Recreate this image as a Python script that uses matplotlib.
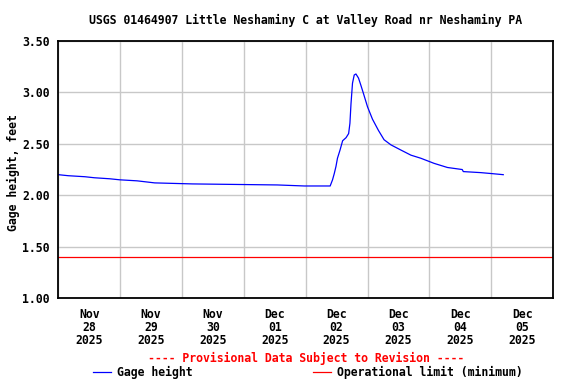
import matplotlib
matplotlib.use("Agg")
import matplotlib.pyplot as plt
import matplotlib.dates as mdates
from matplotlib.lines import Line2D
import pandas as pd

# gage height readings
times = [
    "2025-11-28 00:00", "2025-11-28 03:50", "2025-11-28 10:20", "2025-11-28 14:00",
    "2025-11-28 20:00", "2025-11-28 23:50", "2025-11-29 06:35", "2025-11-29 13:25",
    "2025-11-30 04:05", "2025-12-01 13:00", "2025-12-01 23:30", "2025-12-02 09:10",
    "2025-12-02 09:30", "2025-12-02 10:25", "2025-12-02 11:05", "2025-12-02 11:45",
    "2025-12-02 12:20", "2025-12-02 13:20", "2025-12-02 14:20", "2025-12-02 15:40",
    "2025-12-02 16:40", "2025-12-02 17:10", "2025-12-02 17:35", "2025-12-02 18:10",
    "2025-12-02 18:50", "2025-12-02 19:30", "2025-12-02 20:30", "2025-12-02 21:25",
    "2025-12-02 22:25", "2025-12-03 00:00", "2025-12-03 01:55", "2025-12-03 04:15",
    "2025-12-03 06:25", "2025-12-03 09:05", "2025-12-03 12:55", "2025-12-03 16:50",
    "2025-12-03 20:40", "2025-12-04 01:50", "2025-12-04 07:00", "2025-12-04 12:45",
    "2025-12-04 13:10", "2025-12-04 19:55", "2025-12-05 00:25", "2025-12-05 04:40",
]
gage = [
    2.20, 2.19, 2.18, 2.17,
    2.16, 2.15, 2.14, 2.12,
    2.11, 2.10, 2.09, 2.09,
    2.09, 2.15, 2.21, 2.28,
    2.36, 2.44, 2.53, 2.56,
    2.60, 2.70, 2.89, 3.09,
    3.17, 3.18, 3.14, 3.07,
    2.99, 2.86, 2.74, 2.63,
    2.54, 2.49, 2.44, 2.39,
    2.36, 2.31, 2.27, 2.25,
    2.23, 2.22, 2.21, 2.20,
]
op_limit = 1.40
x_start, x_end = "2025-11-28", "2025-12-06"
y_ticks = [1.00, 1.50, 2.00, 2.50, 3.00, 3.50]

title = "USGS 01464907 Little Neshaminy C at Valley Road nr Neshaminy PA"
ylabel = "Gage height, feet"
note = "---- Provisional Data Subject to Revision ----"

font = {"family": "DejaVu Sans Mono", "weight": "bold", "size": 8.3}

t = pd.to_datetime(times)

fig = plt.figure(figsize=(5.76, 3.84), dpi=100)
ax = fig.add_axes([0.1012, 0.224, 0.859, 0.669])

ax.plot(t, gage, color="#0000ff", lw=0.9)
ax.axhline(op_limit, color="#ff0000", lw=0.9)

ax.set_xlim(pd.Timestamp(x_start), pd.Timestamp(x_end))
ax.set_ylim(1.0, 3.5)
ax.set_yticks(y_ticks)
ax.set_yticklabels([f"{v:.2f}" for v in y_ticks], fontdict=font)

# gridlines at midnight, labels at noon
ax.xaxis.set_major_locator(mdates.DayLocator())
ax.xaxis.set_major_formatter(plt.NullFormatter())
ax.xaxis.set_minor_locator(mdates.HourLocator(byhour=[12]))
ax.xaxis.set_minor_formatter(mdates.DateFormatter("%b\n%d\n%Y"))
ax.tick_params(axis="x", which="both", length=0, pad=7)
ax.tick_params(axis="y", length=0, pad=6)
for lbl in ax.xaxis.get_minorticklabels():
    lbl.set_fontproperties(matplotlib.font_manager.FontProperties(**font))
    lbl.set_linespacing(1.03)

ax.grid(True, which="major", color="#c8c8c8", lw=1.0)
ax.set_axisbelow(True)
for s in ax.spines.values():
    s.set_linewidth(1.3)

# y label placed in figure coords so it sits like the reference
fig.text(13 / 576, 0.55, ylabel, rotation=90, ha="center", va="center", **font)
fig.text(0.53, 0.948, title, ha="center", va="center", **font)
fig.text(0.531, 0.066, note, ha="center", va="center", color="#ff0000", **font)

# legend drawn by hand to match the layout
fig.add_artist(Line2D([93 / 576, 111 / 576], [0.03, 0.03], color="#0000ff", lw=0.9))
fig.text(117 / 576, 0.03, "Gage height", ha="left", va="center", **font)
fig.add_artist(Line2D([313 / 576, 331 / 576], [0.03, 0.03], color="#ff0000", lw=0.9))
fig.text(337 / 576, 0.03, "Operational limit (minimum)", ha="left", va="center", **font)

fig.savefig("out.png", dpi=100)
